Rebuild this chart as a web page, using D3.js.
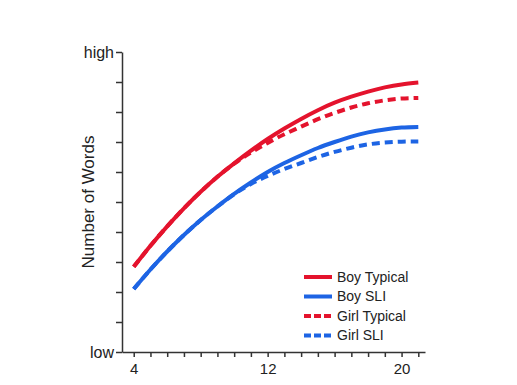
<!DOCTYPE html>
<html>
<head>
<meta charset="utf-8">
<script src="https://cdn.jsdelivr.net/npm/d3@7"></script>
<style>
  body { margin: 0; background: #fff; }
  svg { font-family: "Liberation Sans", Arial, sans-serif; }
  .axis path, .axis line { stroke: #333; stroke-width: 1.5; }
  .axis text { fill: #222; }
</style>
</head>
<body>
<svg id="chart"></svg>
<script>
// Ages (x) and curve values (0 = low, 10 = high)
const ages = [4, 5, 6, 7, 8, 9, 10, 11, 12, 13, 14, 15, 16, 17, 18, 19, 20, 21];
const boyTypical = [2.84, 3.54, 4.19, 4.79, 5.34, 5.84, 6.29, 6.71, 7.1, 7.45, 7.77, 8.06, 8.31, 8.51, 8.68, 8.82, 8.92, 8.98];
const girlTypical = [2.84, 3.54, 4.19, 4.79, 5.34, 5.84, 6.28, 6.65, 6.97, 7.26, 7.51, 7.76, 7.97, 8.15, 8.29, 8.39, 8.45, 8.47];
const boySLI = [2.1, 2.75, 3.35, 3.9, 4.4, 4.85, 5.27, 5.65, 6.0, 6.3, 6.56, 6.8, 7.0, 7.18, 7.32, 7.42, 7.48, 7.5];
const girlSLI = [2.1, 2.75, 3.35, 3.9, 4.4, 4.85, 5.26, 5.6, 5.87, 6.1, 6.3, 6.5, 6.67, 6.81, 6.92, 6.98, 7.01, 7.02];
const seriesNames = ['Boy Typical', 'Boy SLI', 'Girl Typical', 'Girl SLI'];
const xTickValues = [4, 5, 6, 7, 8, 9, 10, 11, 12, 13, 14, 15, 16, 17, 18, 19, 20, 21];
const xTickLabels = {4: '4', 12: '12', 20: '20'};
const yTickValues = [0, 1, 2, 3, 4, 5, 6, 7, 8, 9, 10];
const yTickLabels = {0: 'low', 10: 'high'};

const width = 517, height = 385;
const red = '#e4132d', blue = '#1d64e4';

const series = [
  {name: seriesNames[0], values: boyTypical, color: red, dash: null},
  {name: seriesNames[1], values: boySLI, color: blue, dash: null},
  {name: seriesNames[2], values: girlTypical, color: red, dash: '8,5'},
  {name: seriesNames[3], values: girlSLI, color: blue, dash: '8,5'}
];

const svg = d3.select('#chart')
    .attr('width', width)
    .attr('height', height);

const xScale = d3.scaleLinear().domain([3.3, 21.4]).range([122, 425]);
const yScale = d3.scaleLinear().domain([0, 10]).range([352, 52]);

// x axis
const xAxis = d3.axisBottom(xScale)
    .tickValues(xTickValues)
    .tickSize(5)
    .tickSizeOuter(0)
    .tickFormat(d => xTickLabels[d] || '');

svg.append('g')
    .attr('class', 'axis x-axis')
    .attr('transform', `translate(0,${yScale(0)})`)
    .call(xAxis)
    .call(g => g.selectAll('text').attr('font-size', 15).attr('dy', '0.95em'));

// y axis
const yAxis = d3.axisLeft(yScale)
    .tickValues(yTickValues)
    .tickSize(6)
    .tickSizeOuter(0)
    .tickFormat(d => yTickLabels[d] || '');

svg.append('g')
    .attr('class', 'axis y-axis')
    .attr('transform', `translate(${xScale.range()[0]},0)`)
    .call(yAxis)
    .call(g => g.selectAll('text').attr('font-size', 16).attr('x', -8));

// y axis title
svg.append('text')
    .attr('transform', `translate(94,${(yScale(0) + yScale(10)) / 2}) rotate(-90)`)
    .attr('text-anchor', 'middle')
    .attr('font-size', 17)
    .attr('fill', '#222')
    .text('Number of Words');

// curves
const line = d3.line()
    .x((d, i) => xScale(ages[i]))
    .y(d => yScale(d))
    .curve(d3.curveNatural);

svg.selectAll('.curve')
    .data(series)
  .join('path')
    .attr('class', 'curve')
    .attr('fill', 'none')
    .attr('stroke', d => d.color)
    .attr('stroke-width', 4)
    .attr('stroke-dasharray', d => d.dash)
    .attr('d', d => line(d.values));

// legend
const legend = svg.append('g')
    .attr('transform', 'translate(304,277)');

const rows = legend.selectAll('.row')
    .data(series)
  .join('g')
    .attr('class', 'row')
    .attr('transform', (d, i) => `translate(0,${i * 19.5})`);

rows.append('line')
    .attr('x1', 0).attr('x2', 28)
    .attr('stroke', d => d.color)
    .attr('stroke-width', 4)
    .attr('stroke-dasharray', d => d.dash ? '7,3' : null);

rows.append('text')
    .attr('x', 33)
    .attr('dy', '0.35em')
    .attr('font-size', 14)
    .attr('fill', '#222')
    .text(d => d.name);
</script>
</body>
</html>
